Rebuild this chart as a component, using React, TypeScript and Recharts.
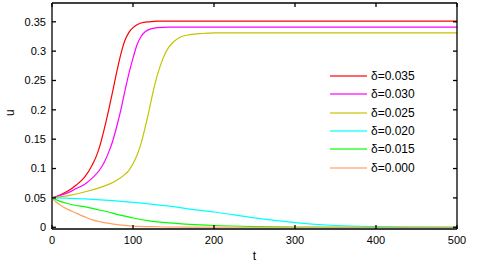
import React from 'react';
import {LineChart, Line, XAxis, YAxis, Legend} from 'recharts';

const tRed = [0, 10, 20, 30, 40, 50, 55, 60, 65, 70, 75, 80, 85, 90, 95, 100, 105, 110, 120, 130, 200, 300, 400, 500];
const uRed = [0.05, 0.055, 0.062, 0.072, 0.085, 0.107, 0.122, 0.143, 0.17, 0.2, 0.232, 0.265, 0.295, 0.318, 0.332, 0.34, 0.345, 0.348, 0.35, 0.351, 0.351, 0.351, 0.351, 0.351];

const tMagenta = [0, 10, 20, 30, 40, 50, 60, 65, 70, 75, 80, 85, 90, 95, 100, 105, 110, 115, 120, 130, 145, 200, 300, 500];
const uMagenta = [0.05, 0.054, 0.059, 0.066, 0.073, 0.084, 0.1, 0.112, 0.128, 0.147, 0.172, 0.2, 0.232, 0.262, 0.288, 0.311, 0.325, 0.333, 0.337, 0.34, 0.341, 0.341, 0.341, 0.341];

const tOlive = [0, 20, 40, 60, 70, 80, 90, 95, 100, 105, 110, 115, 120, 125, 130, 135, 140, 150, 160, 170, 185, 200, 300, 500];
const uOlive = [0.05, 0.054, 0.06, 0.068, 0.073, 0.08, 0.09, 0.097, 0.108, 0.123, 0.143, 0.17, 0.2, 0.232, 0.259, 0.28, 0.297, 0.316, 0.325, 0.328, 0.33, 0.331, 0.331, 0.331];

const tCyan = [0, 50, 100, 150, 170, 200, 250, 300, 350, 400, 450, 500];
const uCyan = [0.05, 0.0475, 0.0425, 0.035, 0.031, 0.026, 0.016, 0.008, 0.003, 0.001, 0.0003, 0];

const tGreen = [0, 10, 20, 30, 40, 50, 60, 70, 80, 90, 100, 120, 150, 170, 200, 250, 300, 400, 500];
const uGreen = [0.05, 0.044, 0.04, 0.037, 0.035, 0.032, 0.029, 0.026, 0.022, 0.019, 0.0158, 0.011, 0.007, 0.005, 0.003, 0.0012, 0.0004, 0, 0];

const tOrange = [0, 5, 10, 20, 30, 40, 50, 60, 80, 100, 130, 170, 250, 500];
const uOrange = [0.05, 0.043, 0.038, 0.03, 0.024, 0.018, 0.0125, 0.009, 0.0045, 0.002, 0.0008, 0.0002, 0, 0];

const xTicks = [0, 100, 200, 300, 400, 500];
const yTicks = [0, 0.05, 0.1, 0.15, 0.2, 0.25, 0.3, 0.35];
const yDomain = [-0.003, 0.382];

const zip = (t: number[], u: number[]) => t.map((v, i) => ({t: v, u: u[i]}));

const series = [
    {name: 'δ=0.035', color: '#ff0000', data: zip(tRed, uRed)},
    {name: 'δ=0.030', color: '#ff00ff', data: zip(tMagenta, uMagenta)},
    {name: 'δ=0.025', color: '#c4c400', data: zip(tOlive, uOlive)},
    {name: 'δ=0.020', color: '#00ffff', data: zip(tCyan, uCyan)},
    {name: 'δ=0.015', color: '#00ff00', data: zip(tGreen, uGreen)},
    {name: 'δ=0.000', color: '#ffa060', data: zip(tOrange, uOrange)},
];

const font = '"Liberation Sans", Arial, sans-serif';

// legend drawn from our own series list so the order stays as in the figure
const renderLegend = () => (
    <div style={{fontFamily: font, fontSize: 12, color: '#000'}}>
        {series.map((s) => (
            <div key={s.name} style={{display: 'flex', alignItems: 'center', height: 18.3}}>
                <div style={{width: 37, height: 2, background: s.color, opacity: 0.6, marginRight: 4}}/>
                <span>{s.name}</span>
            </div>
        ))}
    </div>
);

const App = () => {
    return (
        <div style={{position: 'absolute', left: 0, top: 0}}>
            <LineChart width={491} height={270} margin={{top: 3, right: 34, bottom: 0, left: 0}}>
                <XAxis xAxisId="b" dataKey="t" type="number" domain={[0, 500]} ticks={xTicks}
                       allowDataOverflow height={41} stroke="#000" strokeWidth={1.3}
                       tickSize={-4} tickMargin={11}
                       tick={{fill: '#000', fontSize: 11, fontFamily: font}}
                       label={{value: 't', position: 'insideBottom', offset: 10, fill: '#000', fontSize: 12, fontFamily: font}}/>
                <XAxis xAxisId="top" orientation="top" dataKey="t" type="number" domain={[0, 500]} ticks={xTicks}
                       allowDataOverflow height={1} stroke="#000" strokeWidth={1.3} mirror tickSize={4}
                       tickFormatter={() => ''}/>
                <YAxis yAxisId="l" type="number" domain={yDomain} ticks={yTicks} allowDataOverflow
                       width={52} stroke="#000" strokeWidth={1.3}
                       tickSize={-4} tickMargin={10}
                       tick={{fill: '#000', fontSize: 11, fontFamily: font}}
                       label={{value: 'u', angle: -90, position: 'insideLeft', offset: 10, fill: '#000', fontSize: 12, fontFamily: font}}/>
                <YAxis yAxisId="r" orientation="right" type="number" domain={yDomain} ticks={yTicks}
                       allowDataOverflow width={1} stroke="#000" strokeWidth={1.3} mirror tickSize={4}
                       tickFormatter={() => ''}/>
                <Legend layout="vertical" align="center" verticalAlign="middle" content={renderLegend}
                        wrapperStyle={{position: 'absolute', left: 330, top: 67, width: 120}}/>
                {series.map((s) => (
                    <Line key={s.name} xAxisId="b" yAxisId="l" data={s.data} dataKey="u" name={s.name}
                          type="monotone" stroke={s.color} strokeWidth={1.2} dot={false}
                          isAnimationActive={false}/>
                ))}
                {/* invisible copy so the top/right frame axes have a series */}
                <Line xAxisId="top" yAxisId="r" data={series[0].data} dataKey="u" stroke="none" dot={false}
                      legendType="none" isAnimationActive={false}/>
            </LineChart>
        </div>
    );
};

export default App;
